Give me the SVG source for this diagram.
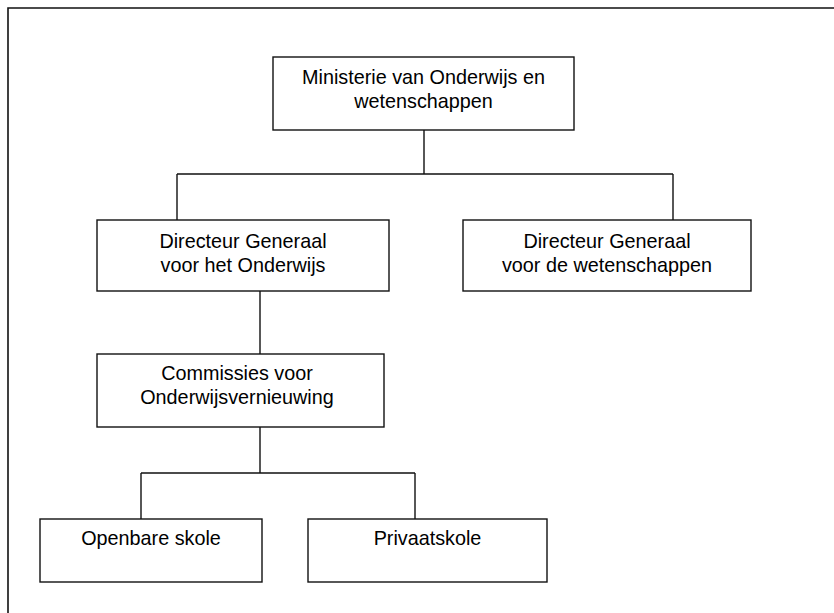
<svg xmlns="http://www.w3.org/2000/svg" width="834" height="613" viewBox="0 0 834 613">
  <style>
    .box { fill: #ffffff; stroke: #111111; stroke-width: 1.4; }
    .lbl { font-family: "Liberation Sans", Arial, sans-serif; font-size: 19.8px; fill: #000000; text-anchor: middle; }
    .wire { fill: none; stroke: #111111; stroke-width: 1.4; }
    .frame { fill: none; stroke: #111111; stroke-width: 1.6; }
  </style>
  <rect x="0" y="0" width="834" height="613" fill="#ffffff"/>

  <!-- outer frame (left and top edges) -->
  <path class="frame" d="M8,613 V8 H834"/>

  <!-- connectors -->
  <g id="connectors">
    <path class="wire" d="M424,130 V174 M177,174 H673 M177,174 V220 M673,174 V220"/>
    <path class="wire" d="M260,291 V354"/>
    <path class="wire" d="M260,427 V473 M141,473 H415 M141,473 V519 M415,473 V519"/>
  </g>

  <g id="ministerie">
    <rect class="box" x="273" y="57" width="301" height="73"/>
    <text class="lbl" x="423.5" y="84">Ministerie van Onderwijs en</text>
    <text class="lbl" x="423.5" y="108">wetenschappen</text>
  </g>

  <g id="dg-onderwijs">
    <rect class="box" x="97" y="220" width="292" height="71"/>
    <text class="lbl" x="243" y="248">Directeur Generaal</text>
    <text class="lbl" x="243" y="272">voor het Onderwijs</text>
  </g>

  <g id="dg-wetenschappen">
    <rect class="box" x="463" y="220" width="288" height="71"/>
    <text class="lbl" x="607" y="248">Directeur Generaal</text>
    <text class="lbl" x="607" y="272">voor de wetenschappen</text>
  </g>

  <g id="commissies">
    <rect class="box" x="97" y="354" width="287" height="73"/>
    <text class="lbl" x="237" y="380">Commissies voor</text>
    <text class="lbl" x="237" y="404">Onderwijsvernieuwing</text>
  </g>

  <g id="openbare">
    <rect class="box" x="40" y="519" width="222" height="63"/>
    <text class="lbl" x="151" y="545">Openbare skole</text>
  </g>

  <g id="privaat">
    <rect class="box" x="308" y="519" width="239" height="63"/>
    <text class="lbl" x="427.5" y="545">Privaatskole</text>
  </g>
</svg>
